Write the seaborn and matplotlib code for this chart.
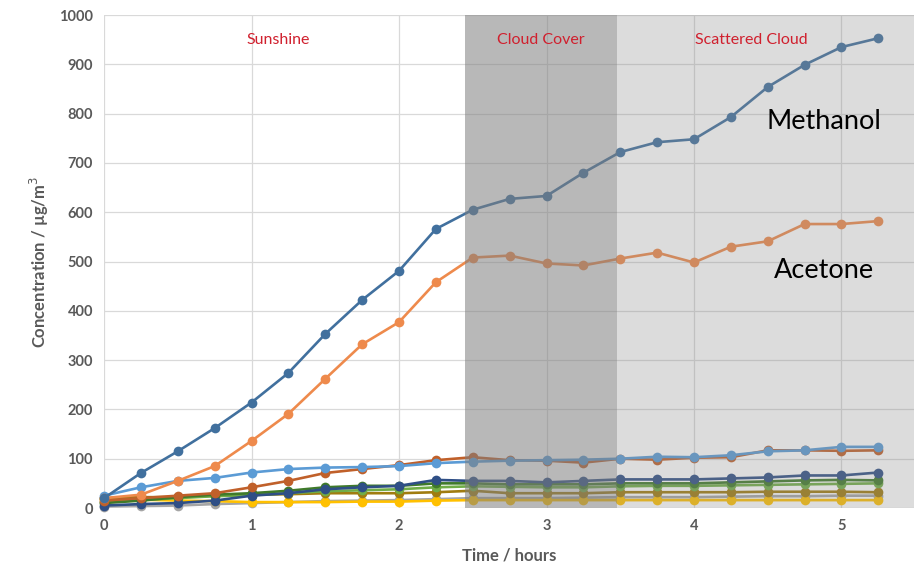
import numpy as np
import pandas as pd
import matplotlib
matplotlib.use("Agg")
import matplotlib.pyplot as plt
import seaborn as sns

# time points (hours)
time_h = [0, 0.25, 0.5, 0.75, 1.0, 1.25, 1.5, 1.75, 2.0, 2.25, 2.5,
          2.75, 3.0, 3.25, 3.5, 3.75, 4.0, 4.25, 4.5, 4.75, 5.0, 5.25]

methanol = [20, 71, 115, 162, 214, 274, 353, 422, 481, 566, 605,
            627, 633, 680, 722, 742, 748, 793, 854, 899, 935, 953]
acetone = [20, 27, 55, 85, 136, 191, 262, 332, 377, 458, 508,
           512, 496, 492, 506, 518, 498, 530, 541, 576, 576, 582]
light_blue = [25, 42, 55, 61, 72, 79, 82, 83, 85, 91, 94,
              96, 97, 98, 100, 104, 103, 107, 115, 117, 124, 124]
brown = [15, 20, 25, 30, 42, 55, 71, 79, 87, 97, 103,
         97, 96, 92, 100, 98, 102, 103, 117, 117, 116, 117]
navy = [5, 8, 10, 15, 25, 30, 38, 42, 45, 57, 55,
        55, 52, 55, 58, 58, 58, 60, 62, 66, 66, 72]
dark_green = [10, 15, 22, 27, 30, 35, 42, 45, 45, 50, 50,
              48, 48, 48, 50, 50, 50, 52, 54, 56, 57, 56]
green = [12, 16, 20, 24, 26, 30, 34, 36, 38, 42, 44,
         43, 42, 42, 44, 45, 45, 46, 47, 48, 49, 50]
olive = [20, 22, 22, 25, 27, 28, 30, 30, 30, 32, 35,
         30, 30, 30, 32, 32, 32, 32, 33, 33, 33, 32]
yellow = [18, 17, 15, 14, 12, 12, 12, 13, 13, 15, 16,
          16, 16, 16, 16, 16, 16, 16, 16, 16, 16, 16]
grey = [3, 4, 5, 8, 10, 12, 14, 15, 16, 18, 20,
        20, 20, 21, 22, 22, 22, 23, 24, 24, 25, 25]

series = {
    "Grey": grey,
    "Yellow": yellow,
    "Olive": olive,
    "Green": green,
    "Dark green": dark_green,
    "Navy": navy,
    "Brown": brown,
    "Light blue": light_blue,
    "Acetone": acetone,
    "Methanol": methanol,
}
colors = {
    "Grey": "#A5A5A5",
    "Yellow": "#FFC000",
    "Olive": "#A07C10",
    "Green": "#70AD47",
    "Dark green": "#3F7A2A",
    "Navy": "#2F4F86",
    "Brown": "#C0602A",
    "Light blue": "#5B9BD5",
    "Acetone": "#EE8A4C",
    "Methanol": "#41709E",
}

rows = []
for name, vals in series.items():
    for t, v in zip(time_h, vals):
        rows.append({"time": t, "conc": v, "compound": name})
df = pd.DataFrame(rows)

sns.set_style("white")
plt.rcParams['font.family'] = ['Lato', 'DejaVu Sans']

fig = plt.figure(figsize=(9.23, 5.69), dpi=100)
ax = fig.add_axes([0.1127, 0.1072, 0.8773, 0.8664])

sns.lineplot(data=df, x="time", y="conc", hue="compound", palette=colors,
             hue_order=list(series.keys()), marker="o", markersize=7,
             markeredgewidth=0, linewidth=1.9, legend=False, ax=ax,
             clip_on=False)

# weather periods, drawn over the lines like the original
ax.axvspan(2.45, 3.475, color="#7f7f7f", alpha=0.55, lw=0, zorder=5)
ax.axvspan(3.475, 5.49, color="#8c8c8c", alpha=0.3, lw=0, zorder=5)

ax.set_xlim(0, 5.49)
ax.set_ylim(0, 1000)
ax.set_xticks(range(0, 6))
ax.set_yticks(range(0, 1001, 100))
ax.grid(True, color="#d9d9d9", linewidth=0.9)
ax.set_axisbelow(True)
for s in ax.spines.values():
    s.set_visible(False)
ax.tick_params(length=0, labelsize=10.5, labelcolor="#595959", pad=8)
for lab in ax.get_xticklabels() + ax.get_yticklabels():
    lab.set_fontweight("bold")

ax.set_xlabel("Time / hours", fontsize=12, color="#595959",
              fontweight="bold", labelpad=10)
ax.set_ylabel("Concentration / µg/m$^3$", fontsize=12, color="#595959",
              fontweight="bold", labelpad=6)

red = "#D0202E"
ax.text(1.18, 949, "Sunshine", color=red, fontsize=11.5, ha="center", va="center", zorder=6)
ax.text(2.96, 949, "Cloud Cover", color=red, fontsize=11.5, ha="center", va="center", zorder=6)
ax.text(4.39, 949, "Scattered Cloud", color=red, fontsize=11.5, ha="center", va="center", zorder=6)

ax.text(4.88, 783, "Methanol", color="black", fontsize=19.5, ha="center", va="center", zorder=6)
ax.text(4.88, 481, "Acetone", color="black", fontsize=19.5, ha="center", va="center", zorder=6)

fig.savefig("out.png", dpi=100)
